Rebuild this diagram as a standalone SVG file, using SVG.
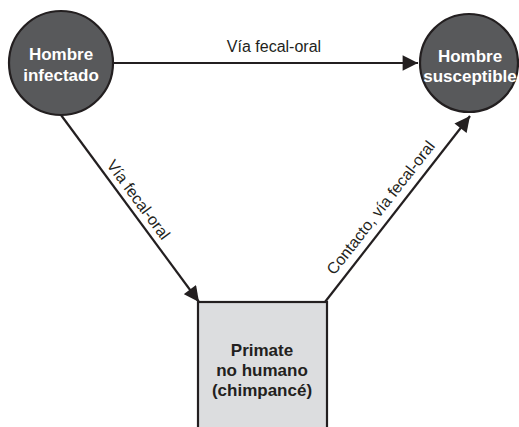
<svg xmlns="http://www.w3.org/2000/svg" width="519" height="427" viewBox="0 0 519 427">
  <style>
    .host { fill: #58595b; stroke: #231f20; stroke-width: 2.2; }
    .reservoir { fill: #dcdddf; stroke: #231f20; stroke-width: 2.2; }
    .edge { fill: none; stroke: #231f20; stroke-width: 2.2; }
    .host-label { font-family: "Liberation Sans", Arial, sans-serif; font-weight: bold; font-size: 17px; fill: #ffffff; text-anchor: middle; }
    .box-label { font-family: "Liberation Sans", Arial, sans-serif; font-weight: bold; font-size: 17px; fill: #231f20; text-anchor: middle; }
    .edge-label { font-family: "Liberation Sans", Arial, sans-serif; font-size: 16px; fill: #231f20; text-anchor: middle; }
  </style>
  <defs>
    <marker id="arrow" viewBox="0 0 10 10" refX="10" refY="5" markerWidth="7.5" markerHeight="7" markerUnits="strokeWidth" orient="auto">
      <path d="M0,0 L10,5 L0,10 Z" fill="#231f20"/>
    </marker>
  </defs>

  <g id="connectors">
    <line class="edge" x1="113" y1="63" x2="418" y2="63" marker-end="url(#arrow)"/>
    <line class="edge" x1="61" y1="115" x2="199" y2="302" marker-end="url(#arrow)"/>
    <line class="edge" x1="325" y1="302" x2="470" y2="116" marker-end="url(#arrow)"/>
    <text class="edge-label" x="274" y="52">Vía fecal-oral</text>
    <text class="edge-label" transform="translate(134,203) rotate(53.5)">Vía fecal-oral</text>
    <text class="edge-label" transform="translate(385,211) rotate(-52)">Contacto, vía fecal-oral</text>
  </g>

  <g id="infected-human">
    <circle class="host" cx="61" cy="63" r="52"/>
    <text class="host-label" x="61" y="60">Hombre</text>
    <text class="host-label" x="61" y="81">infectado</text>
  </g>

  <g id="susceptible-human">
    <circle class="host" cx="469" cy="63" r="49"/>
    <text class="host-label" x="470" y="62">Hombre</text>
    <text class="host-label" x="470" y="82">susceptible</text>
  </g>

  <g id="non-human-primate">
    <rect class="reservoir" x="198" y="302" width="129" height="140"/>
    <text class="box-label" x="262" y="356">Primate</text>
    <text class="box-label" x="262" y="376">no humano</text>
    <text class="box-label" x="262" y="396">(chimpancé)</text>
  </g>
</svg>
